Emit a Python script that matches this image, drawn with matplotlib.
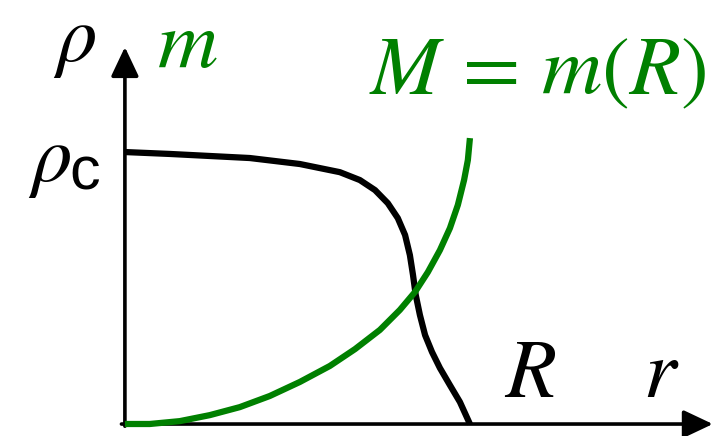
import matplotlib
matplotlib.use("Agg")
import matplotlib.pyplot as plt

plt.rcParams['mathtext.fontset'] = 'stix'

# density profile rho(r)/rho_c, r in units of R
r_rho = [0.0, 0.130, 0.362, 0.507, 0.623, 0.681, 0.725, 0.762, 0.791,
         0.812, 0.826, 0.835, 0.843, 0.855, 0.870, 0.890, 0.913, 0.942,
         0.971, 1.0]
rho = [1.0, 0.993, 0.978, 0.956, 0.926, 0.897, 0.860, 0.812, 0.757,
       0.695, 0.621, 0.548, 0.474, 0.401, 0.327, 0.265, 0.206, 0.143,
       0.081, 0.0]

# enclosed mass m(r)/M
r_m = [0.0, 0.072, 0.159, 0.246, 0.333, 0.420, 0.507, 0.594, 0.667,
       0.739, 0.797, 0.841, 0.878, 0.913, 0.942, 0.965, 0.983, 0.994,
       1.0]
mass = [0.0, 0.0, 0.010, 0.031, 0.059, 0.098, 0.147, 0.203, 0.262,
        0.329, 0.399, 0.462, 0.531, 0.608, 0.685, 0.766, 0.853, 0.923,
        1.0]

W, H = 718, 436
GREEN = '#008000'

fig = plt.figure(figsize=(W / 100, H / 100), dpi=100)
ax = fig.add_axes([0, 0, 1, 1])
ax.set_xlim(-0.362, 1.719)
ax.set_ylim(-0.044, 1.559)
ax.axis('off')

# mass shares the vertical axis, with its own scale
ax2 = ax.twinx()
ax2.set_position([0, 0, 1, 1])
ax2.set_ylim(-0.042, 1.483)
ax2.axis('off')

# axes with arrow heads
arrow = dict(arrowstyle='-|>, head_length=18, head_width=8.5',
             mutation_scale=1, lw=2.6, color='black',
             shrinkA=0, shrinkB=0)
ax.annotate('', xy=(1.704, 0), xytext=(-0.01, 0), arrowprops=arrow)
ax.annotate('', xy=(0, 1.386), xytext=(0, -0.008), arrowprops=arrow)

ax.plot(r_rho, rho, color='black', lw=4.5, solid_capstyle='butt',
        solid_joinstyle='round')
ax2.plot(r_m, mass, color=GREEN, lw=4.5, solid_capstyle='butt',
         solid_joinstyle='round')


def put(px, py, s, **kw):
    fig.text(px / W, 1 - py / H, s, **kw)


put(75, 41, r'$\rho$', fontsize=58, ha='center', va='center')
put(187, 44, r'$m$', fontsize=60, ha='center', va='center', color=GREEN)
# rho_c: italic rho with an upright sans-serif c
put(50, 161, r'$\rho$', fontsize=58, ha='center', va='center')
put(85, 174, 'c', fontsize=44, ha='center', va='center',
    family='Liberation Sans')
put(537, 71, r'$M\,=\,m(R)$', fontsize=60, ha='center', va='center',
    color=GREEN)
put(530, 397, r'$R$', fontsize=60, ha='center', va='baseline')
put(661, 397, r'$r$', fontsize=60, ha='center', va='baseline')

fig.savefig('out.png', dpi=100)
